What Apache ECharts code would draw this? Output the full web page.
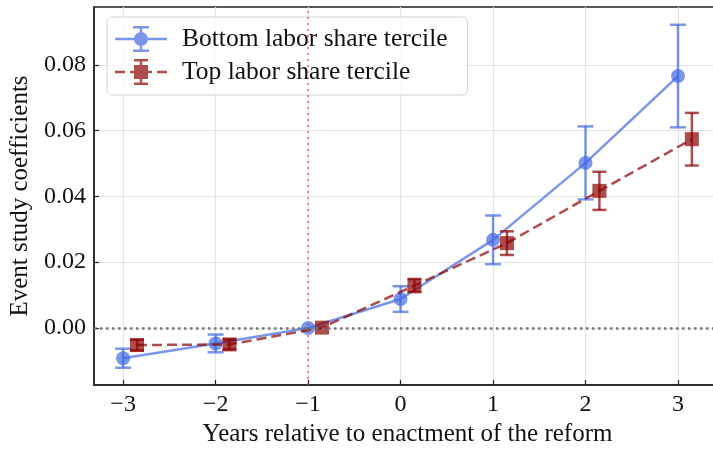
<!DOCTYPE html>
<html>
<head>
<meta charset="utf-8">
<script src="https://cdn.jsdelivr.net/npm/echarts@6/dist/echarts.min.js"></script>
<style>
  html, body { margin: 0; padding: 0; background: #fff; }
  #chart { width: 713px; height: 449px; }
</style>
</head>
<body>
<div id="chart"></div>
<script>
// event years and values
var years = [-3, -2, -1, 0, 1, 2, 3];
var yearsShifted = [-2.85, -1.85, -0.85, 0.15, 1.15, 2.15, 3.15];
var bottomCoef = [-0.0092, -0.0047, 0.0, 0.0088, 0.0268, 0.0502, 0.0766];
var bottomErr = [0.0029, 0.0027, 0.0, 0.0039, 0.0074, 0.0111, 0.0156];
var topCoef = [-0.0052, -0.0050, 0.0001, 0.0129, 0.0258, 0.0417, 0.0574];
var topErr = [0.0016, 0.0015, 0.0, 0.0020, 0.0036, 0.0058, 0.0080];
var xTicks = [-3, -2, -1, 0, 1, 2, 3];
var yTicks = [0.00, 0.02, 0.04, 0.06, 0.08];

var bottomName = 'Bottom labor share tercile';
var topName = 'Top labor share tercile';
var blue = 'rgba(65,105,225,0.7)';
var red = 'rgba(139,0,0,0.7)';
var serif = '"Liberation Serif", "DejaVu Serif", serif';

function pairs(xs, ys) {
    return xs.map(function (x, i) { return [x, ys[i]]; });
}
function errRows(xs, ys, es) {
    return xs.map(function (x, i) { return [x, ys[i] - es[i], ys[i] + es[i]]; });
}

function errorBar(color, capHalf) {
    return function (params, api) {
        var x = api.value(0);
        var lo = api.coord([x, api.value(1)]);
        var hi = api.coord([x, api.value(2)]);
        if (Math.abs(lo[1] - hi[1]) < 0.5) return;
        var st = { stroke: color, lineWidth: 2.5 };
        return {
            type: 'group',
            children: [
                { type: 'line', shape: { x1: lo[0], y1: lo[1], x2: hi[0], y2: hi[1] }, style: st },
                { type: 'line', shape: { x1: lo[0] - capHalf, y1: lo[1], x2: lo[0] + capHalf, y2: lo[1] }, style: st },
                { type: 'line', shape: { x1: hi[0] - capHalf, y1: hi[1], x2: hi[0] + capHalf, y2: hi[1] }, style: st }
            ]
        };
    };
}

// legend icons: line + marker + error bar, 52 x 26
var blueIcon = 'path://M0 11.75h52v2.5h-52z M24.75 0h2.5v26h-2.5z M18 0h16v2.5h-16z M18 23.5h16v2.5h-16z M19 13a7 7 0 1 1 14 0a7 7 0 1 1 -14 0z';
var redIcon = 'path://M0 11.75h10v2.5h-10z M15 11.75h22v2.5h-22z M42 11.75h10v2.5h-10z M24.75 0h2.5v26h-2.5z M19 0h14v2.5h-14z M19 23.5h14v2.5h-14z M19 6h14v14h-14z';

var chart = echarts.init(document.getElementById('chart'));
chart.setOption({
    animation: false,
    grid: {
        left: 94, right: -8, top: 7, bottom: 64,
        outerBoundsMode: 'none',
        containLabel: false,
        show: true, borderColor: '#222', borderWidth: 1.5
    },
    legend: {
        orient: 'vertical',
        left: 107, top: 17,
        padding: [9, 20, 10, 8],
        itemWidth: 52, itemHeight: 26, itemGap: 7,
        backgroundColor: 'rgba(255,255,255,0.8)',
        borderColor: '#d2d2d2', borderWidth: 1, borderRadius: 5,
        textStyle: { fontFamily: serif, fontSize: 25.5, color: '#111', padding: [0, 0, 0, 10] },
        data: [
            { name: bottomName, icon: blueIcon },
            { name: topName, icon: redIcon }
        ]
    },
    xAxis: {
        type: 'value',
        min: -3.315, max: 3.465,
        name: 'Years relative to enactment of the reform',
        nameLocation: 'middle', nameGap: 35,
        nameTextStyle: { fontFamily: serif, fontSize: 25, color: '#111' },
        axisLine: { onZero: false, lineStyle: { color: '#222', width: 1.5 } },
        axisTick: { inside: true, length: 5, customValues: xTicks, lineStyle: { color: '#222', width: 1.2 } },
        axisLabel: {
            customValues: xTicks, margin: 8,
            fontFamily: serif, fontSize: 24, color: '#111',
            formatter: function (v) { return v < 0 ? '\u2212' + Math.abs(v) : String(v); }
        },
        splitLine: { show: true, lineStyle: { color: '#e3e3e3', width: 1.2 } }
    },
    yAxis: {
        type: 'value',
        min: -0.01734, max: 0.0976,
        name: 'Event study coefficients',
        nameLocation: 'middle', nameGap: 60,
        nameTextStyle: { fontFamily: serif, fontSize: 25, color: '#111' },
        axisLine: { show: true, onZero: false, lineStyle: { color: '#222', width: 1.5 } },
        axisTick: { show: true, inside: true, length: 5, customValues: yTicks, lineStyle: { color: '#222', width: 1.2 } },
        axisLabel: {
            customValues: yTicks, margin: 8,
            fontFamily: serif, fontSize: 24, color: '#111',
            formatter: function (v) { return v.toFixed(2); }
        },
        splitLine: { show: true, lineStyle: { color: '#e3e3e3', width: 1.2 } }
    },
    series: [
        {
            name: 'refs',
            type: 'line',
            data: [],
            z: 1,
            markLine: {
                silent: true,
                symbol: 'none',
                label: { show: false },
                data: [
                    { yAxis: 0, lineStyle: { color: '#777', width: 2.5, type: [2.5, 3.5] } },
                    { xAxis: -1, lineStyle: { color: 'rgba(255,60,60,0.6)', width: 2, type: [2, 4] } }
                ]
            }
        },
        {
            name: 'bottomLine',
            type: 'line',
            data: pairs(years, bottomCoef),
            symbol: 'circle', symbolSize: 14,
            lineStyle: { color: blue, width: 2.5 },
            itemStyle: { color: blue },
            z: 3
        },
        {
            name: bottomName,
            type: 'custom',
            data: errRows(years, bottomCoef, bottomErr),
            itemStyle: { color: blue },
            renderItem: errorBar(blue, 8),
            z: 3
        },
        {
            name: 'topLine',
            type: 'line',
            data: pairs(yearsShifted, topCoef),
            symbol: 'rect', symbolSize: 14,
            lineStyle: { color: red, width: 2.5, type: [10, 5] },
            itemStyle: { color: red },
            z: 4
        },
        {
            name: topName,
            type: 'custom',
            data: errRows(yearsShifted, topCoef, topErr),
            itemStyle: { color: red },
            renderItem: errorBar(red, 7),
            z: 4
        }
    ]
});
</script>
</body>
</html>
